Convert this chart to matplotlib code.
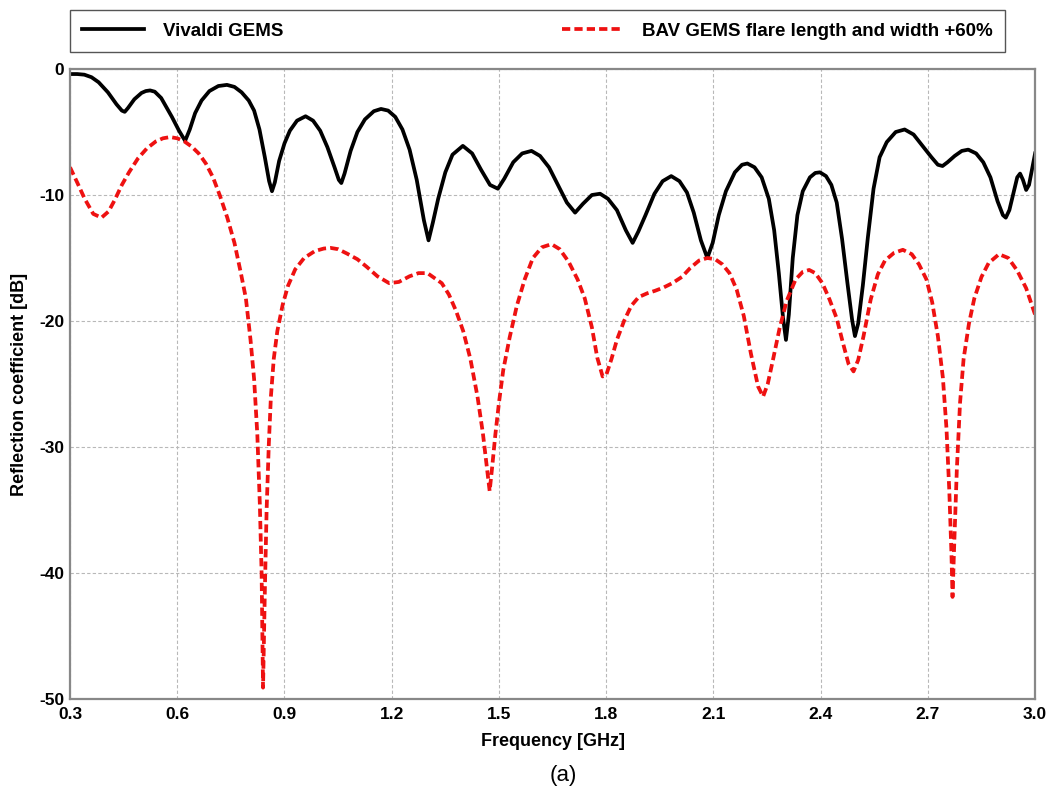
import matplotlib
matplotlib.use("Agg")
import matplotlib.pyplot as plt

# Vivaldi GEMS (black)
freq_viv = [0.300, 0.320, 0.340, 0.360, 0.380, 0.406, 0.430, 0.445, 0.453, 0.462,
            0.480, 0.500, 0.512, 0.524, 0.537, 0.555, 0.585, 0.605, 0.622, 0.635,
            0.650, 0.668, 0.690, 0.715, 0.739, 0.760, 0.780, 0.800, 0.815, 0.830,
            0.845, 0.857, 0.865, 0.873, 0.885, 0.900, 0.915, 0.935, 0.959, 0.980,
            1.000, 1.020, 1.040, 1.052, 1.059, 1.068, 1.085, 1.104, 1.125, 1.150,
            1.170, 1.190, 1.210, 1.230, 1.250, 1.270, 1.290, 1.303, 1.315, 1.330,
            1.350, 1.370, 1.399, 1.425, 1.450, 1.475, 1.497, 1.515, 1.540, 1.565,
            1.591, 1.615, 1.640, 1.665, 1.690, 1.713, 1.735, 1.760, 1.783, 1.805,
            1.830, 1.855, 1.874, 1.890, 1.910, 1.935, 1.958, 1.982, 2.005, 2.026,
            2.045, 2.065, 2.083, 2.098, 2.115, 2.135, 2.160, 2.180, 2.195, 2.215,
            2.235, 2.255, 2.270, 2.283, 2.295, 2.303, 2.311, 2.322, 2.335, 2.350,
            2.370, 2.385, 2.398, 2.415, 2.430, 2.445, 2.460, 2.475, 2.488, 2.496,
            2.505, 2.518, 2.532, 2.548, 2.565, 2.585, 2.610, 2.635, 2.660, 2.685,
            2.710, 2.728, 2.741, 2.755, 2.775, 2.795, 2.813, 2.835, 2.855, 2.875,
            2.895, 2.910, 2.918, 2.928, 2.940, 2.950, 2.958, 2.966, 2.975, 2.983,
            2.992, 3.000]
s11_viv = [-0.40, -0.40, -0.45, -0.65, -1.05, -1.85, -2.80, -3.30, -3.40, -3.10,
           -2.40, -1.90, -1.75, -1.70, -1.80, -2.30, -3.80, -4.90, -5.70, -4.80,
           -3.50, -2.50, -1.75, -1.35, -1.26, -1.42, -1.85, -2.50, -3.30, -4.80,
           -7.00, -8.90, -9.70, -9.00, -7.30, -5.90, -4.90, -4.10, -3.75, -4.10,
           -4.90, -6.20, -7.80, -8.80, -9.05, -8.30, -6.50, -5.00, -4.00, -3.35,
           -3.17, -3.30, -3.80, -4.80, -6.40, -8.80, -12.0, -13.6, -12.2, -10.3,
           -8.20, -6.80, -6.10, -6.70, -8.00, -9.20, -9.50, -8.70, -7.40, -6.70,
           -6.50, -6.90, -7.80, -9.20, -10.6, -11.4, -10.7, -10.0, -9.90, -10.3,
           -11.2, -12.8, -13.8, -12.9, -11.6, -9.90, -8.90, -8.50, -8.90, -9.80,
           -11.4, -13.6, -15.0, -13.8, -11.6, -9.70, -8.20, -7.60, -7.50, -7.80,
           -8.60, -10.3, -12.8, -16.2, -19.8, -21.5, -19.5, -15.0, -11.6, -9.70,
           -8.60, -8.25, -8.20, -8.50, -9.20, -10.6, -13.5, -17.0, -19.9, -21.2,
           -20.2, -17.2, -13.4, -9.50, -7.00, -5.80, -5.00, -4.80, -5.20, -6.10,
           -7.00, -7.60, -7.70, -7.40, -6.90, -6.50, -6.40, -6.70, -7.40, -8.60,
           -10.5, -11.6, -11.8, -11.2, -9.80, -8.60, -8.30, -8.80, -9.60, -9.20,
           -7.90, -6.70]

# BAV GEMS flare length and width +60% (red dashed)
freq_bav = [0.300, 0.320, 0.341, 0.365, 0.388, 0.408, 0.425, 0.445, 0.465, 0.490,
            0.515, 0.540, 0.560, 0.580, 0.600, 0.620, 0.640, 0.660, 0.680, 0.700,
            0.720, 0.740, 0.760, 0.778, 0.792, 0.805, 0.815, 0.824, 0.831, 0.836,
            0.840, 0.845, 0.850, 0.856, 0.862, 0.870, 0.880, 0.895, 0.910, 0.930,
            0.955, 0.985, 1.010, 1.029, 1.050, 1.075, 1.104, 1.130, 1.160, 1.193,
            1.220, 1.250, 1.275, 1.300, 1.320, 1.340, 1.360, 1.380, 1.400, 1.420,
            1.440, 1.455, 1.466, 1.474, 1.481, 1.490, 1.500, 1.512, 1.530, 1.550,
            1.572, 1.595, 1.620, 1.647, 1.670, 1.695, 1.720, 1.740, 1.760, 1.775,
            1.790, 1.800, 1.815, 1.830, 1.850, 1.870, 1.891, 1.915, 1.937, 1.960,
            1.985, 2.012, 2.035, 2.060, 2.083, 2.105, 2.125, 2.145, 2.165, 2.185,
            2.205, 2.225, 2.239, 2.252, 2.268, 2.285, 2.305, 2.330, 2.350, 2.368,
            2.385, 2.405, 2.425, 2.445, 2.462, 2.478, 2.492, 2.505, 2.520, 2.540,
            2.560, 2.580, 2.605, 2.630, 2.655, 2.675, 2.696, 2.712, 2.728, 2.742,
            2.752, 2.760, 2.766, 2.769, 2.774, 2.781, 2.790, 2.800, 2.815, 2.830,
            2.850, 2.870, 2.899, 2.925, 2.950, 2.975, 3.000]
s11_bav = [-7.80, -9.00, -10.3, -11.5, -11.8, -11.3, -10.4, -9.20, -8.20, -7.10,
           -6.30, -5.75, -5.50, -5.40, -5.50, -5.75, -6.15, -6.70, -7.50, -8.60,
           -10.1, -11.8, -13.8, -16.2, -18.2, -21.5, -24.6, -29.0, -34.5, -40.0,
           -49.1, -41.5, -35.0, -29.9, -26.0, -23.0, -20.8, -18.7, -17.2, -15.9,
           -15.0, -14.45, -14.25, -14.2, -14.3, -14.65, -15.1, -15.7, -16.45, -17.0,
           -16.9, -16.45, -16.2, -16.2, -16.6, -17.0, -17.9, -19.2, -20.8, -23.0,
           -26.0, -28.9, -31.6, -33.5, -31.6, -29.0, -26.5, -23.9, -21.3, -18.8,
           -16.7, -15.0, -14.15, -13.9, -14.3, -15.3, -16.7, -18.2, -20.5, -22.9,
           -24.4, -24.3, -23.0, -21.5, -20.0, -18.8, -18.1, -17.8, -17.6, -17.35,
           -17.0, -16.5, -15.8, -15.2, -15.0, -15.1, -15.5, -16.2, -17.5, -19.6,
           -22.6, -25.2, -26.0, -25.0, -22.9, -20.6, -18.4, -16.7, -16.1, -15.95,
           -16.2, -17.0, -18.3, -19.8, -21.7, -23.4, -24.0, -23.1, -21.2, -18.3,
           -16.3, -15.2, -14.6, -14.35, -14.7, -15.5, -16.7, -18.5, -21.2, -24.5,
           -28.5, -33.5, -38.5, -41.9, -37.5, -31.8, -26.5, -23.0, -20.2, -18.2,
           -16.5, -15.4, -14.7, -15.0, -16.0, -17.4, -19.5]

x_ticks = [0.3, 0.6, 0.9, 1.2, 1.5, 1.8, 2.1, 2.4, 2.7, 3.0]
y_ticks = [0, -10, -20, -30, -40, -50]

plt.rcParams["font.family"] = ["Liberation Sans", "DejaVu Sans"]

fig = plt.figure(figsize=(10.53, 7.95), dpi=100)
ax = fig.add_axes([0.0665, 0.1208, 0.9165, 0.7924])

ax.plot(freq_viv, s11_viv, color="black", lw=2.7, solid_joinstyle="round",
        label="Vivaldi GEMS")
ax.plot(freq_bav, s11_bav, color="#ee1111", lw=2.7, linestyle=(0, (2.2, 1.1)),
        label="BAV GEMS flare length and width +60%")

ax.set_xlim(0.3, 3.0)
ax.set_ylim(-50, 0)
ax.set_xticks(x_ticks)
ax.set_xticklabels([f"{t:.1f}" for t in x_ticks])
ax.set_yticks(y_ticks)
ax.set_yticklabels([str(t) for t in y_ticks])
ax.tick_params(axis="x", length=0, labelsize=12.5, pad=6)
ax.tick_params(axis="y", length=0, labelsize=12.5, pad=4)
for lab in ax.get_xticklabels() + ax.get_yticklabels():
    lab.set_fontweight("bold")

ax.grid(True, color="#b8b8b8", linestyle=(0, (3, 2)), lw=0.8)
for sp in ax.spines.values():
    sp.set_color("#888888")
    sp.set_linewidth(1.6)

ax.set_xlabel("Frequency [GHz]", fontsize=13, fontweight="bold", labelpad=8)
ax.set_ylabel("Reflection coefficient [dB]", fontsize=13, fontweight="bold", labelpad=8)

leg = ax.legend(loc="lower left", bbox_to_anchor=(0, 1.027, 0.969, 0.07),
                mode="expand", ncol=2, borderaxespad=0, fancybox=False,
                handlelength=3.3, handletextpad=1.0,
                prop={"size": 13.5, "weight": "bold"},
                framealpha=1, borderpad=0.65)
leg.get_frame().set_edgecolor("#555555")
leg.get_frame().set_linewidth(1.0)

fig.text(0.535, 0.025, "(a)", fontsize=16, ha="center", va="center")

fig.savefig("out.png", dpi=100)
